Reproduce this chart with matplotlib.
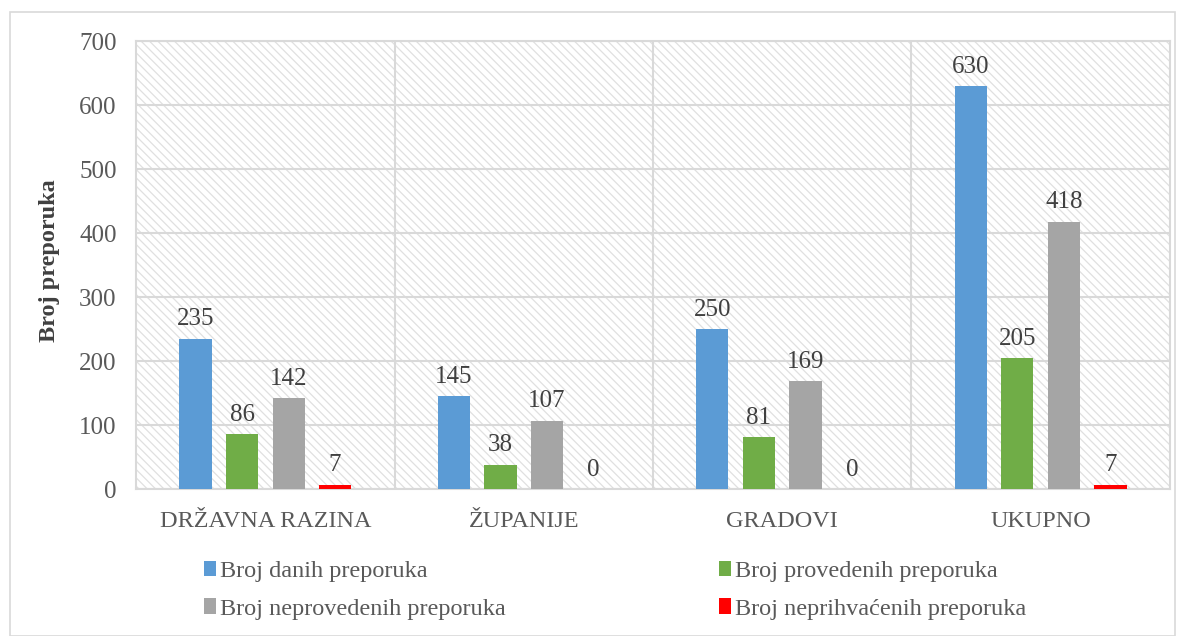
#!/usr/bin/env python3
"""Broj preporuka po razinama - grouped bar chart."""

import matplotlib
import numpy as np

matplotlib.use("Agg")
import matplotlib.pyplot as plt
from matplotlib.patches import Patch, Rectangle

CATEGORIES = ["DRŽAVNA RAZINA", "ŽUPANIJE", "GRADOVI", "UKUPNO"]
SERIES_NAMES = [
    "Broj danih preporuka",
    "Broj provedenih preporuka",
    "Broj neprovedenih preporuka",
    "Broj neprihvaćenih preporuka",
]
DANIH = [235, 145, 250, 630]
PROVEDENIH = [86, 38, 81, 205]
NEPROVEDENIH = [142, 107, 169, 418]
NEPRIHVACENIH = [7, 0, 0, 7]
COLORS = ["#5B9BD5", "#70AD47", "#A5A5A5", "#FF0000"]
Y_TICKS = [0, 100, 200, 300, 400, 500, 600, 700]

GRID = "#D9D9D9"
TEXT = "#595959"
FS = 17.5

plt.rcParams["font.family"] = ["Liberation Serif", "DejaVu Serif"]
plt.rcParams["hatch.color"] = "#E0E0E0"
plt.rcParams["hatch.linewidth"] = 0.9

fig = plt.figure(figsize=(11.85, 6.36), dpi=100)
ax = fig.add_axes([0.1148, 0.2311, 0.8725, 0.7044])

# figure frame
fig.patches.append(
    Rectangle((10 / 1185, 0), 1165 / 1185, 624 / 636, transform=fig.transFigure,
              fill=False, edgecolor=GRID, linewidth=1.2)
)

# hatched plot area
ax.add_patch(
    Rectangle((0, 0), 1, 1, transform=ax.transAxes, facecolor="white",
              edgecolor="#E0E0E0", hatch="\\\\\\\\", linewidth=0, zorder=0)
)

x = np.arange(len(CATEGORIES))
offsets = [-0.27, -0.09, 0.09, 0.27]
width = 0.124
series = [DANIH, PROVEDENIH, NEPROVEDENIH, NEPRIHVACENIH]
handles = []
for vals, off, color, name in zip(series, offsets, COLORS, SERIES_NAMES):
    ax.bar(x + off, vals, width, color=color, zorder=3)
    for xi, v in zip(x, vals):
        ax.text(xi + off, v + 13, f"{v}", ha="center", va="bottom",
                fontsize=18, color="#404040", zorder=4)
    handles.append(Patch(facecolor=color, label=name))

ax.set_xlim(-0.5, len(CATEGORIES) - 0.5)
ax.set_ylim(0, 700)
ax.set_yticks(Y_TICKS)
ax.set_xticks(x)
ax.set_xticklabels(CATEGORIES)
ax.tick_params(length=0, labelsize=FS, colors=TEXT)
ax.tick_params(axis="y", labelsize=18)
ax.tick_params(axis="x", pad=16)
ax.tick_params(axis="y", pad=14)

ax.yaxis.grid(True, color=GRID, linewidth=1.5, zorder=1)
for b in np.arange(0.5, len(CATEGORIES) - 0.5, 1):
    ax.axvline(b, color=GRID, linewidth=1.5, zorder=1)
for s in ax.spines.values():
    s.set_color(GRID)
    s.set_linewidth(1.5)
ax.set_axisbelow(True)

ax.set_ylabel("Broj preporuka", fontsize=FS, fontweight="bold", color="#404040")
ax.yaxis.set_label_coords(-0.074, 0.51)

order = [0, 2, 1, 3]
fig.legend([handles[i] for i in order], [SERIES_NAMES[i] for i in order],
           ncol=2, loc="center", bbox_to_anchor=(0.519, 0.072), frameon=False,
           fontsize=FS, labelcolor=TEXT, handlelength=0.5, handleheight=0.6,
           handletextpad=0.15, columnspacing=8.8, labelspacing=0.68)

fig.savefig("out.png", dpi=100)
